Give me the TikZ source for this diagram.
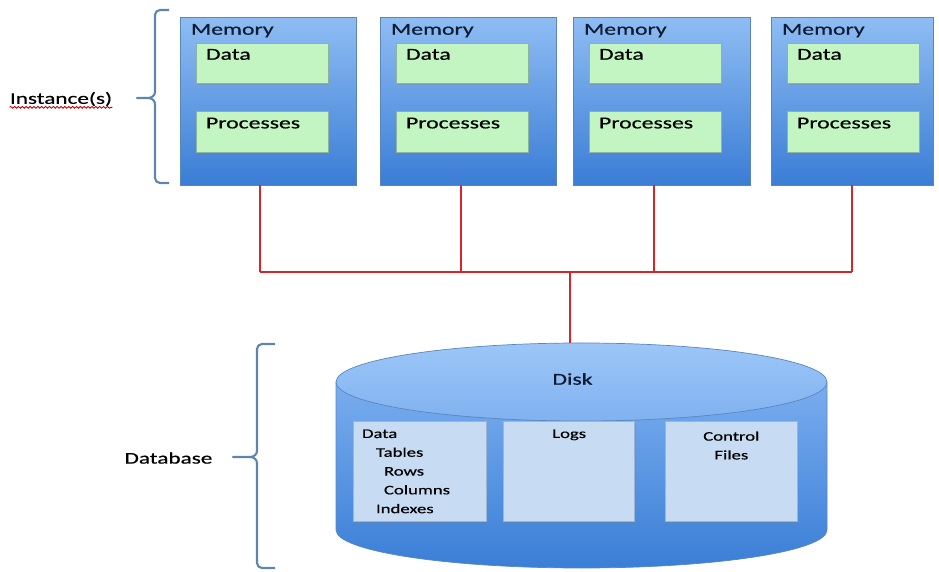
\documentclass[tikz,border=0pt]{standalone}
\usepackage{fontspec}
\setmainfont{Carlito}[FakeStretch=1.42,FakeBold=0.5]
\usetikzlibrary{positioning,shadows,decorations.pathmorphing}

\definecolor{memtop}{HTML}{8FBDF3}
\definecolor{membot}{HTML}{3A7DD5}
\definecolor{memline}{HTML}{5A86BF}
\definecolor{greenfill}{HTML}{C2F5C2}
\definecolor{greenline}{HTML}{8DB59C}
\definecolor{navy}{HTML}{0F1A33}
\definecolor{wire}{HTML}{D8252A}
\definecolor{bracecol}{HTML}{5E84B0}
\definecolor{cyltophi}{HTML}{9CC6F7}
\definecolor{cyltoplo}{HTML}{80B2F0}
\definecolor{cylhi}{HTML}{7AADEE}
\definecolor{cyllo}{HTML}{3A7ED6}
\definecolor{filefill}{HTML}{C7DCF2}
\definecolor{fileline}{HTML}{9DB5CF}

\tikzset{
  membox/.style={draw=memline, top color=memtop, bottom color=membot, minimum height=3.36cm, inner sep=0pt,
    drop shadow={opacity=0.2, shadow xshift=0.6pt, shadow yshift=-0.6pt}},
  greenbox/.style={draw=greenline, fill=greenfill, minimum width=2.64cm, minimum height=0.81cm, inner sep=0pt,
    drop shadow={opacity=0.3, shadow xshift=0.6pt, shadow yshift=-0.6pt}},
  filebox/.style={draw=fileline, fill=filefill, minimum height=2cm, inner sep=0pt,
    drop shadow={opacity=0.3, shadow xshift=0.6pt, shadow yshift=-0.6pt}},
  memtext/.style={anchor=north west, inner sep=0pt, text=navy, font=\fontsize{9.5}{11}\selectfont},
  boxtext/.style={anchor=north west, inner sep=0pt, text=black, font=\fontsize{9.5}{11}\selectfont},
  disktext/.style={anchor=north west, inner sep=0pt, text=black, font=\fontsize{7.5}{10.7}\selectfont},
  sidetext/.style={inner sep=0pt, text=black, font=\fontsize{9.3}{11}\selectfont},
  wire/.style={draw=wire, line width=1.2pt},
  brace/.style={draw=bracecol, line width=1.2pt, line join=round}
}

\begin{document}
\begin{tikzpicture}[x=0.02cm,y=0.02cm]
\useasboundingbox (0,0) rectangle (939,571);

%Memory Boxes
\foreach \i/\x/\w in {1/268/3.52,2/468/3.52,3/661.5/3.54,4/852/3.24}{
  \node (mem\i) [membox, minimum width=\w cm] at (\x,470) {};
  \node (memtxt\i) [memtext] at ([shift={(0.22cm,-0.14cm)}]mem\i.north west) {Memory};
  \node (data\i) [greenbox, below right=0.52cm and 0.32cm of mem\i.north west] {};
  \node (proc\i) [greenbox, below=0.55cm of data\i] {};
  \node (datatxt\i) [boxtext] at ([shift={(0.2cm,-0.12cm)}]data\i.north west) {Data};
  \node (proctxt\i) [boxtext] at ([shift={(0.2cm,-0.12cm)}]proc\i.north west) {Processes};
}

%Disk
\shadedraw [draw=memline, top color=cylhi, bottom color=cyllo]
  (336,189) -- (336,41) arc (180:360:245.5 and 38) -- (827,189) -- cycle;
\shadedraw [draw=memline, top color=cyltophi, bottom color=cyltoplo] (581.5,189) ellipse (245.5 and 39);
\node (disktxt) [memtext, anchor=center] at (572.5,192) {Disk};

\node (ddata) [filebox, minimum width=2.66cm] at (419.5,99.5) {};
\node (dlogs) [filebox, minimum width=2.62cm, right=0.34cm of ddata] {};
\node (dctrl) [filebox, minimum width=2.64cm, right=0.6cm of dlogs] {};
\node (ddatatxt) [disktext, align=left] at ([shift={(0.18cm,-0.16cm)}]ddata.north west)
  {Data\\\hspace*{0.28cm}Tables\\\hspace*{0.44cm}Rows\\\hspace*{0.44cm}Columns\\\hspace*{0.28cm}Indexes};
\node (logstxt) [disktext, anchor=north] at ([yshift=-0.16cm]dlogs.north) {Logs};
\node (ctrltxt) [disktext, anchor=north, align=center] at ([yshift=-0.2cm]dctrl.north) {Control\\Files};

%Red Lines
\coordinate (tap1) at (260,299);
\coordinate (tap2) at (461,299);
\coordinate (tap3) at (654,299);
\coordinate (tap4) at (852,299);
\coordinate (busmid) at (570,299);
\coordinate (disktop) at (570,228);
\foreach \i in {1,...,4}
  \draw [wire] (mem\i.south -| tap\i) -- (tap\i);
\draw [wire] (tap1) -- (tap4);
\draw [wire] (busmid) -- (disktop);

%Braces & Labels
\draw [brace] (169,561) -- (160,561) to[out=180,in=90] (155,556) -- (155,479)
  to[out=-90,in=0] (148,473) -- (137,473) -- (148,473) to[out=0,in=90] (155,467)
  -- (155,393) to[out=-90,in=180] (160,388) -- (169,388);
\draw [brace] (275,227) -- (262,227) to[out=180,in=90] (257,222) -- (257,120)
  to[out=-90,in=0] (250,114) -- (233,114) -- (250,114) to[out=0,in=90] (257,108)
  -- (257,8) to[out=-90,in=180] (262,3) -- (275,3);

\node (insttxt) [sidetext] at (61,472) {Instance(s)};
\draw [draw=red!75!black, line width=0.5pt, decorate, decoration={snake, amplitude=0.5pt, segment length=2.2pt}]
  ([yshift=-2pt]insttxt.base west) -- ([yshift=-2pt]insttxt.base east);
\node (dbtxt) [sidetext] at (168.5,113) {Database};
\end{tikzpicture}
\end{document}
